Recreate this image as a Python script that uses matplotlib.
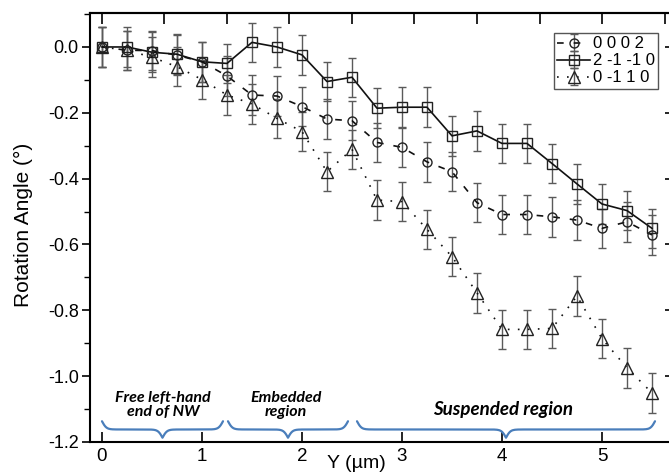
import numpy as np
import matplotlib
matplotlib.use("Agg")
import matplotlib.pyplot as plt

plt.rcParams['font.family'] = ['Liberation Sans', 'DejaVu Sans']

# position along the wire (um)
y_pos = [0.0, 0.25, 0.5, 0.75, 1.0, 1.25, 1.5, 1.75, 2.0, 2.25, 2.5, 2.75,
         3.0, 3.25, 3.5, 3.75, 4.0, 4.25, 4.5, 4.75, 5.0, 5.25, 5.5]

# rotation angle (deg) for each reflection
rot_0002 = [0.0, -0.01, -0.011, -0.025, -0.045, -0.088, -0.146, -0.149, -0.181, -0.219,
            -0.224, -0.29, -0.305, -0.349, -0.379, -0.473, -0.509, -0.509, -0.516,
            -0.526, -0.551, -0.531, -0.571]
rot_2m1m10 = [0.0, 0.0, -0.016, -0.022, -0.045, -0.05, 0.014, 0.0, -0.024, -0.105,
              -0.092, -0.186, -0.183, -0.183, -0.27, -0.255, -0.293, -0.293, -0.354,
              -0.416, -0.477, -0.497, -0.551]
rot_0m110 = [0.0, -0.01, -0.031, -0.06, -0.099, -0.146, -0.173, -0.217, -0.257, -0.379,
             -0.311, -0.465, -0.47, -0.554, -0.637, -0.747, -0.858, -0.858, -0.855,
             -0.757, -0.886, -0.975, -1.051]

err_0002 = [0.06, 0.06, 0.06, 0.06, 0.06, 0.06, 0.06, 0.06, 0.06, 0.06, 0.06, 0.06,
            0.06, 0.06, 0.06, 0.06, 0.06, 0.06, 0.06, 0.06, 0.06, 0.06, 0.06]
err_2m1m10 = [0.06, 0.06, 0.06, 0.06, 0.06, 0.06, 0.06, 0.06, 0.06, 0.06, 0.06, 0.06,
              0.06, 0.06, 0.06, 0.06, 0.06, 0.06, 0.06, 0.06, 0.06, 0.06, 0.06]
err_0m110 = [0.06, 0.06, 0.06, 0.06, 0.06, 0.06, 0.06, 0.06, 0.06, 0.06, 0.06, 0.06,
             0.06, 0.06, 0.06, 0.06, 0.06, 0.06, 0.06, 0.06, 0.06, 0.06, 0.06]

labels = ['0 0 0 2', '2 -1 -1 0', '0 -1 1 0']

# regions marked with braces under the data
region_spans = [(0.0, 1.21), (1.26, 2.46), (2.55, 5.53)]
region_texts = ['Free left-hand\nend of NW', 'Embedded\nregion', 'Suspended region']
region_text_x = [0.61, 1.84, 4.01]
region_text_y = [-1.088, -1.088, -1.100]
region_text_size = [11.5, 11.5, 13.5]

fig = plt.figure(figsize=(6.69, 4.75), dpi=100)
ax = fig.add_axes([0.1345, 0.0695, 0.8685, 0.9032])

ebar = dict(ecolor='#5a5a5a', elinewidth=1.0, capsize=3.0, capthick=1.0,
            markerfacecolor='none', markeredgecolor='#222222', markeredgewidth=1.0,
            color='#111111', lw=1.2)

ax.errorbar(y_pos, rot_0002, yerr=err_0002, marker='o', ms=6.5,
            dashes=(4, 6), label=labels[0], **ebar)
ax.errorbar(y_pos, rot_2m1m10, yerr=err_2m1m10, marker='s', ms=6.5,
            ls='-', label=labels[1], **ebar)
ax.errorbar(y_pos, rot_0m110, yerr=err_0m110, marker='^', ms=8.5,
            ls=(0, (1, 5)), label=labels[2], **ebar)

ax.set_xlim(-0.12, 5.69)
ax.set_ylim(-1.2, 0.1033)

# curly braces
def brace(x0, x1, yend, depth, beta=45.0, color='#4a7ebb'):
    n = 301
    x = np.linspace(x0, x1, n)
    xh = x[:n // 2 + 1]
    yh = (1 / (1 + np.exp(-beta * (xh - xh[0]))) +
          1 / (1 + np.exp(-beta * (xh - xh[-1]))))
    yb = np.concatenate((yh, yh[-2::-1]))
    ax.plot(x, yend - (yb - 0.5) * depth, color=color, lw=1.6,
            solid_capstyle='round', clip_on=False)

for (a, b) in region_spans:
    brace(a, b, -1.137, 0.05)

for t, tx, ty, fs in zip(region_texts, region_text_x, region_text_y, region_text_size):
    ax.text(tx, ty, t, ha='center', va='center', fontsize=fs,
            fontstyle='italic', fontweight='bold', family=['Lato', 'DejaVu Sans'],
            linespacing=1.05)

# ticks
ax.set_xticks([0, 1, 2, 3, 4, 5])
ax.set_yticks([0.0, -0.2, -0.4, -0.6, -0.8, -1.0, -1.2])
ax.set_yticklabels(['0.0', '-0.2', '-0.4', '-0.6', '-0.8', '-1.0', '-1.2'])
ax.set_yticks(np.arange(-1.1, 0.1, 0.2), minor=True)
ax.tick_params(axis='x', direction='in', length=7, width=1.2, labelsize=13.5, pad=4,
               top=False)
ax.tick_params(axis='y', which='major', direction='out', length=6, width=1.2,
               labelsize=13, pad=2)
ax.tick_params(axis='y', which='minor', direction='out', length=4, width=1.0)

secx = ax.secondary_xaxis('top')
secx.set_xticks(np.arange(0, 5.7, 0.625))
secx.tick_params(direction='in', length=8, width=1.2, labelsize=0)
secx.set_xticklabels([])
secx.spines['top'].set_linewidth(1.5)

secy = ax.secondary_yaxis('right')
secy.set_yticks([0.0, -0.2, -0.4, -0.6, -0.8, -1.0, -1.2])
secy.tick_params(direction='in', length=4, width=1.2)
secy.set_yticklabels([])

for s in ['left', 'bottom', 'top', 'right']:
    ax.spines[s].set_linewidth(1.5)

ax.set_ylabel('Rotation Angle (°)', fontsize=15)
ax.yaxis.set_label_coords(-0.098, 0.506)
ax.set_xlabel('Y (µm)', fontsize=14)
ax.xaxis.set_label_coords(0.458, -0.03)

# legend box: right edge ~658 px, top ~33 px in the 669x475 picture
leg = ax.legend(loc='upper right', bbox_to_anchor=(658 / 669, 1 - 33 / 475),
                bbox_transform=fig.transFigure, borderaxespad=0,
                fontsize=12, handlelength=2.0, handletextpad=0.15, labelspacing=0.12,
                borderpad=0.2, fancybox=False, framealpha=1, edgecolor='#555555',
                numpoints=1)
leg.get_frame().set_linewidth(1.0)

fig.savefig('out.png', dpi=100)
